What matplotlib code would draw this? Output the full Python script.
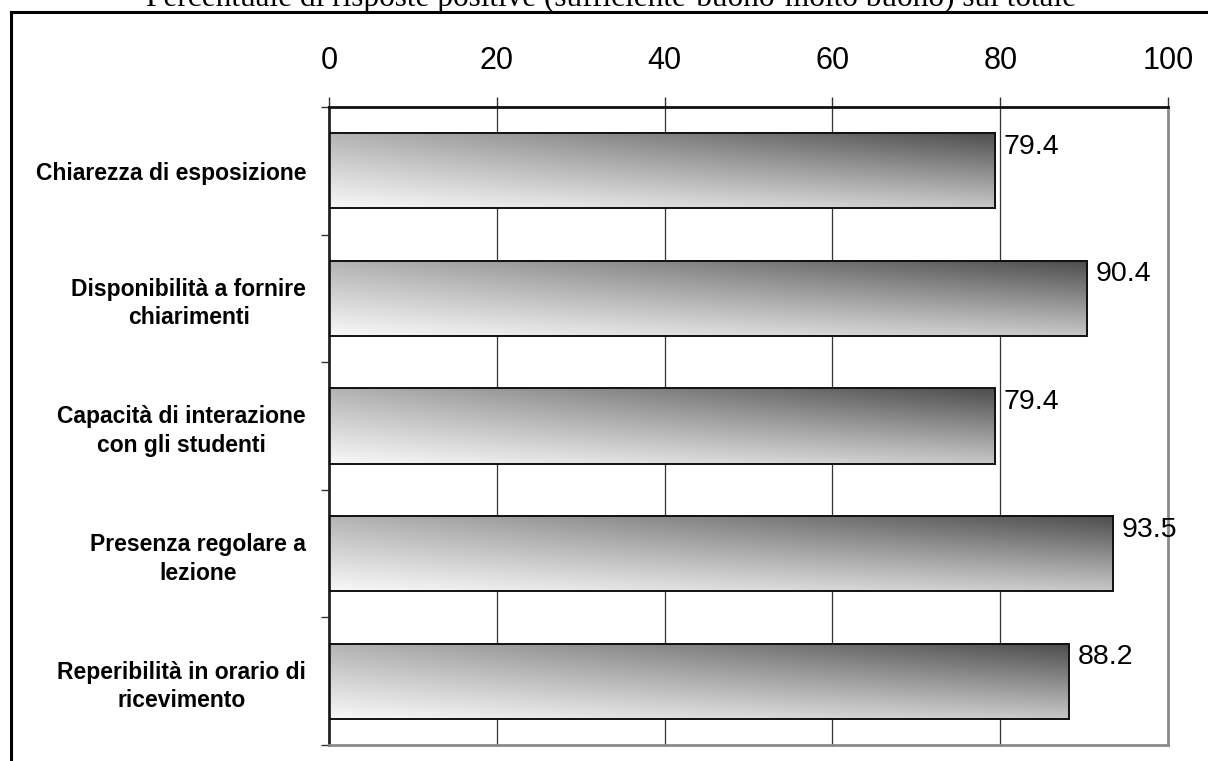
import numpy as np
import matplotlib
matplotlib.use("Agg")
import matplotlib.pyplot as plt
from matplotlib.lines import Line2D

# data
categories = [
    "Chiarezza di esposizione",
    "Disponibilità a fornire\nchiarimenti",
    "Capacità di interazione\ncon gli studenti",
    "Presenza regolare a\nlezione",
    "Reperibilità in orario di\nricevimento",
]
values = [79.4, 90.4, 79.4, 93.5, 88.2]
x_ticks = [0, 20, 40, 60, 80, 100]
title = "Percentuale di risposte positive (sufficiente-buono-molto buono) sul totale"

W, H = 1208, 761
fig = plt.figure(figsize=(W / 100, H / 100), dpi=100)
ax = fig.add_axes([329 / W, 1 - 745 / H, (1168 - 329) / W, (745 - 107) / H])

n = len(categories)
ypos = np.arange(n)[::-1]  # first category on top
bar_h = 0.59

# diagonal grey gradient: light bottom-left, dark top-right
u = np.linspace(0, 1, 200)[None, :]
v = np.linspace(0, 1, 60)[:, None]
grad = 0.97 - 0.27 * v - 0.19 * u - 0.21 * u * v

for y, val in zip(ypos, values):
    ax.imshow(grad, cmap="gray", vmin=0, vmax=1, origin="lower", aspect="auto",
              extent=[0, val, y - bar_h / 2, y + bar_h / 2], zorder=2,
              interpolation="bilinear")
    ax.barh(y, val, height=bar_h, color="none", edgecolor="#111111",
            linewidth=1.4, zorder=3)
    ax.annotate(f"{val:.1f}", xy=(val, y + bar_h / 2), xytext=(6, -0.5),
                textcoords="offset points", ha="left", va="top",
                fontsize=20.5, family="Liberation Sans", zorder=4)

ax.set_xlim(0, 100)
ax.set_ylim(-0.5, n - 0.5)

# grid
for gx in x_ticks[1:-1]:
    ax.axvline(gx, color="#333333", lw=0.9, zorder=1)

ax.xaxis.tick_top()
ax.set_xticks(x_ticks)
ax.set_xticklabels([str(t) for t in x_ticks], fontsize=22, family="Liberation Sans")
ax.tick_params(axis="x", direction="out", length=7.5, width=1.0, color="#333333", pad=15)

ax.set_yticks(ypos)
ax.set_yticklabels(categories, fontsize=16.5, fontweight="bold",
                   family="Liberation Sans", ha="right", multialignment="center",
                   linespacing=1.3)
ax.set_yticks(np.arange(n + 1) - 0.5, minor=True)
ax.tick_params(axis="y", which="major", length=0, pad=16.5)
ax.tick_params(axis="y", which="minor", direction="out", length=6, width=1.0,
               color="#333333")

ax.spines["top"].set_color("#111111")
ax.spines["top"].set_linewidth(2)
ax.spines["left"].set_color("#222222")
ax.spines["left"].set_linewidth(2)
ax.spines["right"].set_color("#8a8a8a")
ax.spines["right"].set_linewidth(2)
ax.spines["bottom"].set_color("#8a8a8a")
ax.spines["bottom"].set_linewidth(2)

# outer frame (cut off at right and bottom)
fig.add_artist(Line2D([11 / W, 1.0], [1 - 12 / H, 1 - 12 / H], color="black", lw=2.2))
fig.add_artist(Line2D([11 / W, 11 / W], [0, 1 - 12 / H], color="black", lw=2.2))

# title sits mostly above the top edge, as in the source image
fig.text(611 / W, 1 - 6 / H, title, ha="center", va="baseline",
         fontsize=22.5, family="Liberation Serif")

fig.savefig("out.png", dpi=100)
